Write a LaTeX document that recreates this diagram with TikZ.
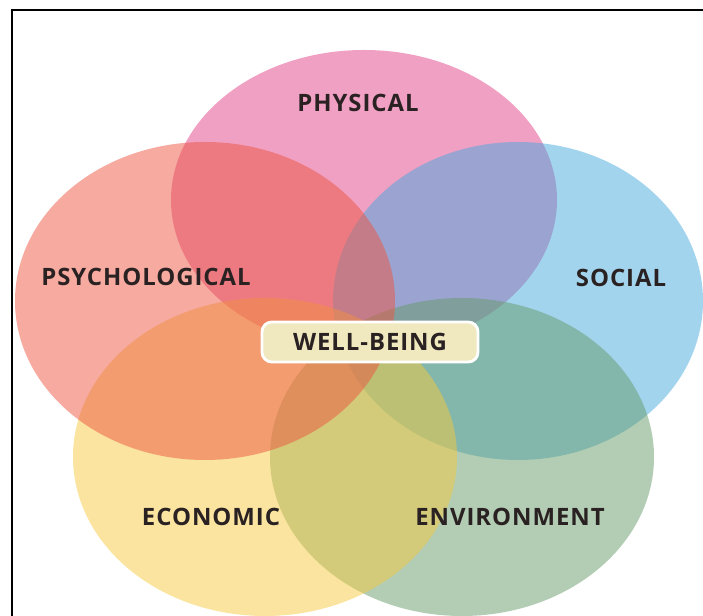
\documentclass[tikz,border=0pt]{standalone}
\usepackage{fontspec}
\newfontfamily\labelfont{Open Sans}[LetterSpace=4]
\definecolor{physicalpink}{HTML}{E14187}
\definecolor{psychred}{HTML}{ED5541}
\definecolor{socialblue}{HTML}{47A9DD}
\definecolor{economicyellow}{HTML}{F5C941}
\definecolor{environgreen}{HTML}{659B69}
\definecolor{wellfill}{HTML}{F0E8BE}
\definecolor{labeltext}{HTML}{2A2222}
\tikzset{
	label text/.style = {font=\labelfont\bfseries\fontsize{17}{20}\selectfont, text=labeltext},
	area/.style = {fill opacity=0.5},
	well box/.style = {label text, fill=wellfill, draw=white, line width=2pt, rounded corners=7pt,
		minimum width=5.4cm, minimum height=1cm}
}
\begin{document}
\begin{tikzpicture} [x = 0.025cm, y = 0.025cm]
	\useasboundingbox (0,0) rectangle (703,616);
	\clip (0,0) rectangle (703,616);
	\draw [line width = 1.2pt] (12,-20) rectangle (720,606);
	% the five areas, red last on top
	\fill [area, physicalpink] (364,416) ellipse (193 and 150);
	\fill [area, socialblue] (518,315) ellipse (185 and 159);
	\fill [area, environgreen] (462,159) ellipse (192 and 159);
	\fill [area, economicyellow] (265,159) ellipse (192 and 159);
	\fill [area, psychred] (205,315) ellipse (190 and 159);
	\node [label text] (physical) at (358,513) {PHYSICAL};
	\node [label text] (psychological) at (146,339) {PSYCHOLOGICAL};
	\node [label text] (social) at (621,338) {SOCIAL};
	\node [label text] (economic) at (211,99) {ECONOMIC};
	\node [label text] (environment) at (510,99) {ENVIRONMENT};
	\node [well box] (wellbeing) at (370,274) {WELL-BEING};
\end{tikzpicture}
\end{document}
